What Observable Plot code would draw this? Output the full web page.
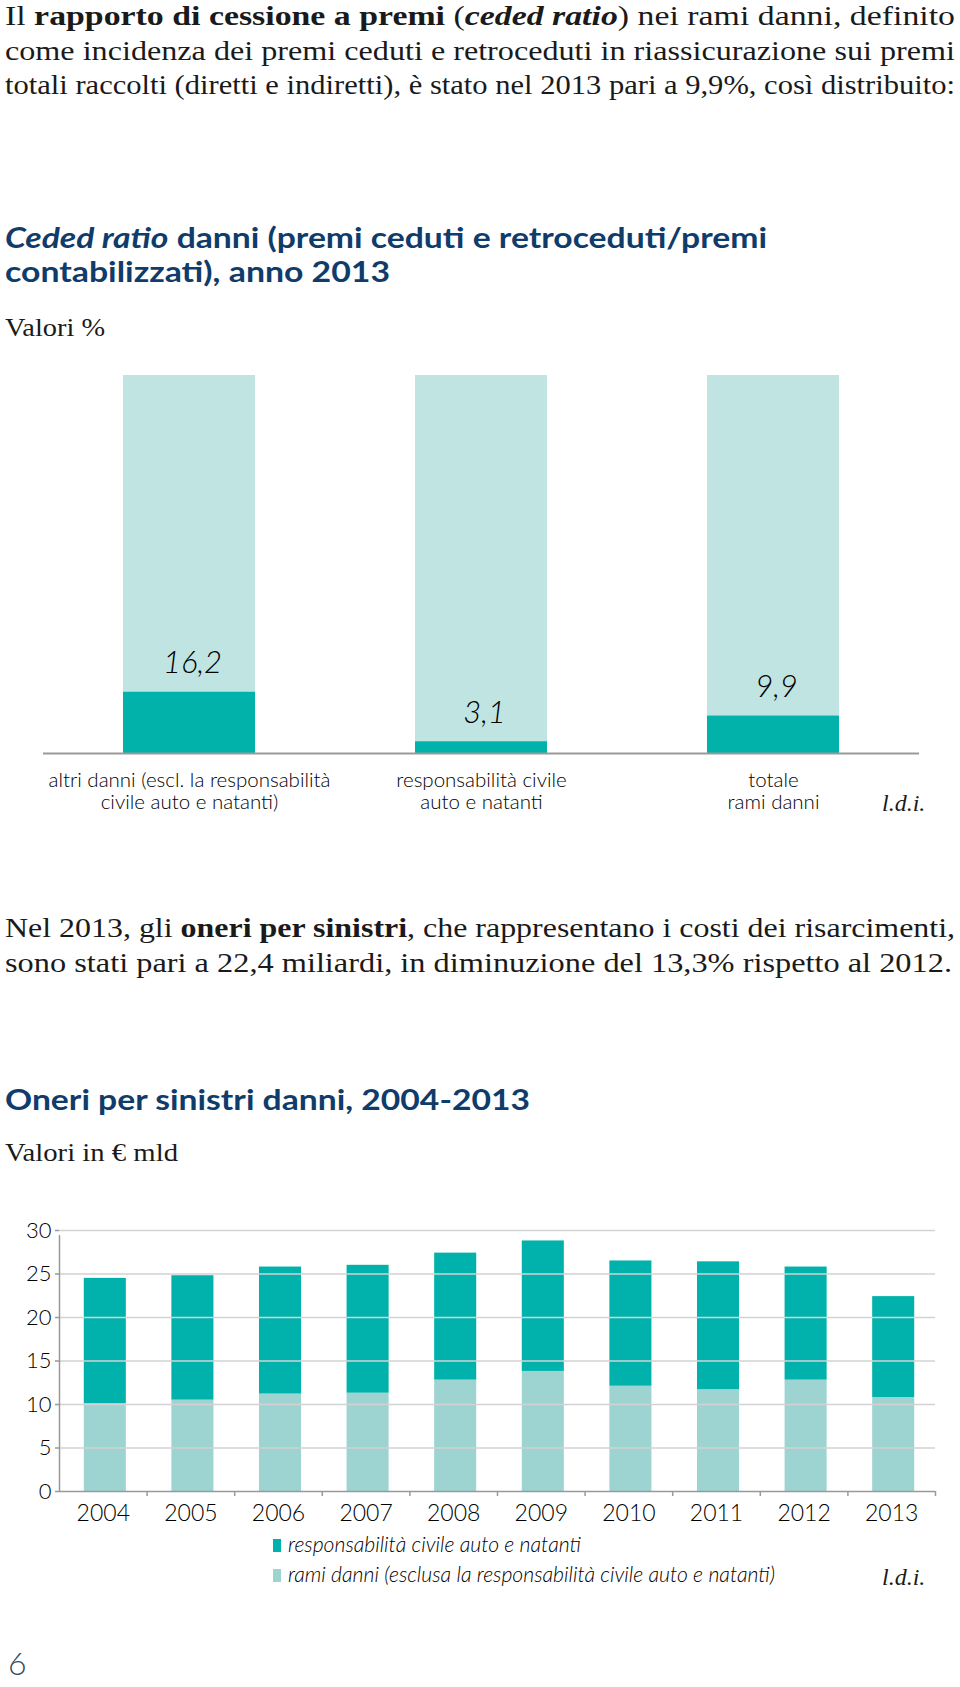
<!DOCTYPE html>
<html><head><meta charset="utf-8">
<script src="https://cdn.jsdelivr.net/npm/d3@7"></script>
<script src="https://cdn.jsdelivr.net/npm/@observablehq/plot@0.6"></script>
<style>
body{margin:0;background:#fff;}
#page{position:relative;width:960px;height:1687px;overflow:hidden;background:#fff;color:#1a1a1a;}
.ln{position:absolute;left:5px;white-space:nowrap;transform-origin:0 50%;}
.serif{font-family:"Liberation Serif",serif;font-size:28px;line-height:34px;height:34px;}
.title{font-family:Lato,"Open Sans",sans-serif;font-weight:700;font-size:28px;line-height:34px;height:34px;color:#0f3c6b;}
.sub{font-family:"Liberation Serif",serif;font-size:26px;line-height:30px;height:30px;}
.ldi{position:absolute;font-family:"Liberation Serif",serif;font-style:italic;font-size:24px;line-height:28px;}
.chart{position:absolute;left:0;}
.leg{position:absolute;left:273px;font-family:Lato,sans-serif;font-weight:300;font-style:italic;font-size:21.2px;line-height:26px;white-space:nowrap;color:#000;}
.sw{display:inline-block;width:8px;height:13px;margin-right:7px;vertical-align:0px;}
#pg{position:absolute;left:8px;top:1643px;font-family:Lato,sans-serif;font-weight:300;font-size:32px;line-height:40px;color:#2f4b63;}
</style></head>
<body><div id="page">
<div class="ln serif" data-y="16" data-w="950">Il <b>rapporto di cessione a premi</b> (<b><i>ceded ratio</i></b>) nei rami danni, definito</div>
<div class="ln serif" data-y="51" data-w="950">come incidenza dei premi ceduti e retroceduti in riassicurazione sui premi</div>
<div class="ln serif" data-y="85" data-w="950">totali raccolti (diretti e indiretti), è stato nel 2013 pari a 9,9%, così distribuito:</div>

<div class="ln title" data-y="237" data-w="762"><i>Ceded ratio</i> danni (premi ceduti e retroceduti/premi</div>
<div class="ln title" data-y="271" data-w="385">contabilizzati), anno 2013</div>
<div class="ln sub" data-y="328" data-w="100">Valori %</div>

<div class="chart" id="c1" style="top:340px"></div>
<div class="ldi" style="left:882px;top:789px">l.d.i.</div>

<div class="ln serif" data-y="928" data-w="950">Nel 2013, gli <b>oneri per sinistri</b>, che rappresentano i costi dei risarcimenti,</div>
<div class="ln serif" data-y="963" data-w="947">sono stati pari a 22,4 miliardi, in diminuzione del 13,3% rispetto al 2012.</div>

<div class="ln title" data-y="1099" data-w="525">Oneri per sinistri danni, 2004-2013</div>
<div class="ln sub" data-y="1153" data-w="173">Valori in € mld</div>

<div class="chart" id="c2" style="top:1210px"></div>
<div id="legend"></div>
<div class="ldi" style="left:882px;top:1563px">l.d.i.</div>
<div id="pg">6</div>
</div>
<script>
// ---------- data: chart 1 ----------
const topCategories = ["altri danni (escl. la responsabilità\ncivile auto e natanti)", "responsabilità civile\nauto e natanti", "totale\nrami danni"];
const cededRatio = [16.2, 3.1, 9.9];
const cededLabels = ["16,2", "3,1", "9,9"];

// ---------- data: chart 2 ----------
const years = ["2004","2005","2006","2007","2008","2009","2010","2011","2012","2013"];
const rcAuto =    [14.4, 14.3, 14.6, 14.7, 14.6, 15.0, 14.4, 14.7, 13.0, 11.6];
const altriRami = [10.1, 10.5, 11.2, 11.3, 12.8, 13.8, 12.1, 11.7, 12.8, 10.8];
const seriesNames = ["rami danni (esclusa la responsabilità civile auto e natanti)", "responsabilità civile auto e natanti"];
const seriesColors = ["#9dd4d2", "#00b2ab"];
const yTicks = [0, 5, 10, 15, 20, 25, 30];

// fit text lines
document.querySelectorAll(".ln").forEach(el => {
  const lh = parseFloat(getComputedStyle(el).lineHeight);
  el.style.top = (+el.dataset.y - lh / 2) + "px";
  const w = el.getBoundingClientRect().width;
  el.style.transform = `scaleX(${(+el.dataset.w) / w})`;
});

// chart 1
const topRows = topCategories.map((c, i) => ({cat: c, value: cededRatio[i], label: cededLabels[i]}));
const c1 = Plot.plot({
  width: 960, height: 480, marginTop: 35, marginBottom: 67, marginLeft: 43, marginRight: 41,
  x: {domain: topCategories, paddingInner: 0.548, paddingOuter: 0.274, round: false, axis: null},
  y: {domain: [0, 100], axis: null},
  style: {fontFamily: "Lato, sans-serif", color: "#000", background: "transparent"},
  marks: [
    Plot.barY(topRows, {x: "cat", y: 100, fill: "#bfe4e1"}),
    Plot.barY(topRows, {x: "cat", y: "value", fill: "#00b2a9"}),
    Plot.text(topRows, {x: "cat", y: "value", text: "label", dy: -29, dx: 3, fontSize: 31, fontWeight: 300, fontStyle: "italic", fill: "#000"}),
    Plot.text(topRows, {x: "cat", y: 0, text: "cat", dy: 17, lineAnchor: "top", lineHeight: 1.1, fontSize: 20.5, fontWeight: 300, fill: "#000"}),
    Plot.ruleY([0], {stroke: "#9a9a9a", strokeWidth: 2})
  ]
});
document.getElementById("c1").append(c1);

// chart 2
const rows = [
  ...years.map((y, i) => ({year: y, series: seriesNames[0], value: altriRami[i]})),
  ...years.map((y, i) => ({year: y, series: seriesNames[1], value: rcAuto[i]}))
];
const W2 = 960, ML2 = 59, MR2 = 25;
const half = (W2 - ML2 - MR2) / years.length / 2;
const c2 = Plot.plot({
  width: W2, height: 320, marginTop: 20, marginBottom: 39, marginLeft: ML2, marginRight: MR2,
  x: {domain: years, paddingInner: 0.52, paddingOuter: 0.26, round: false, axis: null},
  y: {domain: [0, 30], axis: null},
  color: {domain: seriesNames, range: seriesColors},
  style: {fontFamily: "Lato, sans-serif", color: "#000", background: "transparent"},
  marks: [
    Plot.barY(rows, {x: "year", y: "value", fill: "series", dx: 2}),
    Plot.gridY(yTicks.slice(1), {stroke: "#d2d2d2", strokeOpacity: 1, strokeWidth: 1.5}),
    Plot.axisY(yTicks, {label: null, tickSize: 4, tickPadding: 4, fontSize: 22, fontWeight: 300, stroke: "#999", strokeWidth: 1.5}),
    Plot.ruleX([years[0]], {x: d => d, dx: -half, y1: 0, y2: 30, insetBottom: -5, stroke: "#999", strokeWidth: 1.5}),
    Plot.ruleY([0], {stroke: "#999", strokeWidth: 1.5}),
    Plot.ruleX(years.slice(1), {x: d => d, dx: -half, y1: 0, y2: 0, insetBottom: -5, stroke: "#999", strokeWidth: 1.5}),
    Plot.ruleX(years.slice(-1), {x: d => d, dx: half, y1: 0, y2: 0, insetBottom: -5, stroke: "#999", strokeWidth: 1.5}),
    Plot.axisX({label: null, tickSize: 0, tickPadding: 13, fontSize: 23, fontWeight: 300})
  ]
});
document.getElementById("c2").append(c2);

// legend (top series first)
const leg = document.getElementById("legend");
[[1, 1531], [0, 1561]].forEach(([k, top]) => {
  const d = document.createElement("div");
  d.className = "leg";
  d.style.top = top + "px";
  const sw = document.createElement("span");
  sw.className = "sw";
  sw.style.background = seriesColors[k];
  d.append(sw, document.createTextNode(seriesNames[k]));
  leg.append(d);
});
</script>
</body></html>
